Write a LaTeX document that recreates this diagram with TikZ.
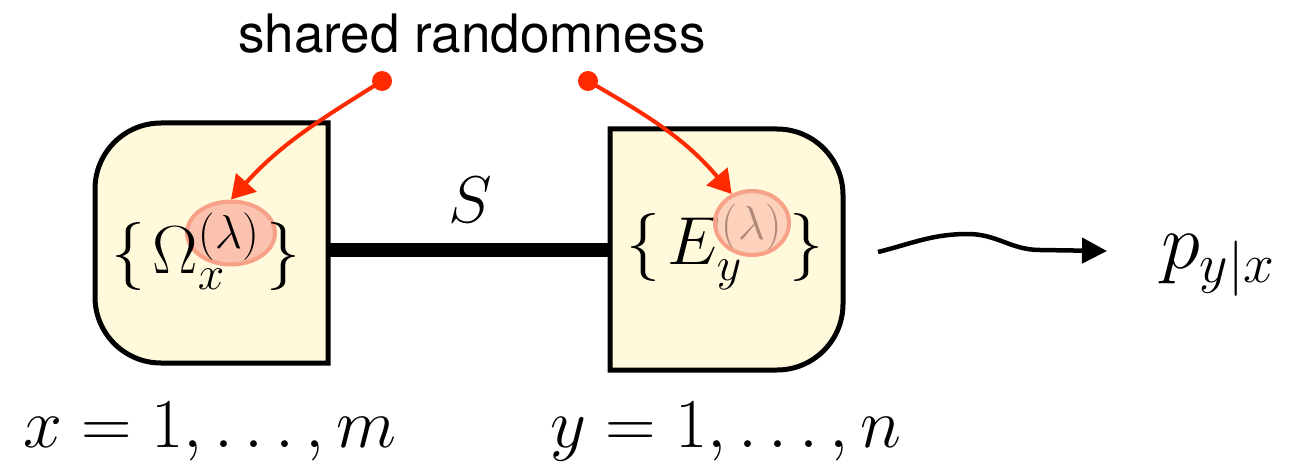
\RequirePackage{fix-cm}
\documentclass[tikz,border=0pt]{standalone}
\usepackage{fontspec}
\newfontfamily\srfont{TeX Gyre Heros}
\usetikzlibrary{arrows.meta,shapes.geometric}
\definecolor{boxfill}{HTML}{FFFADC}
\definecolor{rnd}{HTML}{FF2A00}
\definecolor{lamfill}{HTML}{FBC2AF}
\definecolor{lamedge}{HTML}{F7A189}
\begin{document}
\begin{tikzpicture}[x=1pt,y=1pt,
  boxline/.style={draw=black,line width=5pt,fill=boxfill,line join=miter},
  mathlbl/.style={inner sep=0pt,anchor=base,font=\fontsize{70}{75}\selectfont},
  boxmath/.style={inner sep=0pt,anchor=base,font=\fontsize{68}{72}\selectfont},
  lam/.style={ellipse,inner sep=0pt,fill=lamfill,draw=lamedge,line width=4pt},
  dot/.style={circle,fill=rnd,inner sep=0pt,minimum size=20pt},
  rarrow/.style={draw=rnd,line width=4pt,-{Triangle[length=23pt,width=27pt]}},
  barline/.style={line width=14pt},
  squig/.style={line width=4.5pt,-{Triangle[length=25pt,width=25pt]}}]
\useasboundingbox (0,0) rectangle (1295,-468);

% bar between the boxes
\coordinate (barL) at (328,-250);
\coordinate (barR) at (610,-250);
\draw[barline] (barL) -- (barR);

% left box
\draw[boxline] (328,-363) -- (328,-123) -- (161,-123)
  arc[start angle=90,end angle=180,radius=66] -- (95,-297)
  arc[start angle=180,end angle=270,radius=66] -- cycle;
% right box
\draw[boxline] (610,-129) -- (777,-129)
  arc[start angle=90,end angle=0,radius=66] -- (843,-304)
  arc[start angle=0,end angle=-90,radius=66] -- (610,-370) -- cycle;

% left lambda highlight (behind the text)
\node[lam,minimum width=88pt,minimum height=63pt] (lamL) at (231,-233) {};

% texts
\node[inner sep=0pt,anchor=base,font=\srfont\fontsize{53}{58}\selectfont] (sr) at (472,-53) {shared randomness};
\node[boxmath] (omega) at (206,-273) {$\{\mkern2mu\Omega_x^{(\lambda)}\mkern2mu\}$};
\node[boxmath] (ey) at (725,-264) {$\{\mkern2mu E_y^{(\lambda)}\mkern2mu\}$};
\node[mathlbl,font=\fontsize{66}{70}\selectfont] (S) at (470,-222) {$S$};
\node[mathlbl] (xl) at (210,-447) {$x=1,\ldots,m$};
\node[mathlbl] (yl) at (726,-447) {$y=1,\ldots,n$};
\node[mathlbl,font=\fontsize{79}{84}\selectfont] (p) at (1218,-268) {$p_{y|x}$};

% right lambda highlight (over the text, see-through)
\node[lam,fill opacity=0.7,minimum width=74pt,minimum height=64pt] (lamR) at (752,-223) {};

% shared randomness dots and arrows
\node[dot] (dotL) at (382,-81) {};
\node[dot] (dotR) at (588,-81) {};
\draw[rarrow] (dotL.center) to[out=212,in=48] (lamL.north);
\draw[rarrow] (dotR.center) to[out=-30,in=130] (lamR.125);

% output squiggle
\coordinate (sqA) at (878,-252);
\coordinate (sqB) at (1107,-251);
\draw[squig] (sqA) to[out=14,in=180] (968,-234) to[out=0,in=180] (1040,-250) -- (sqB);
\end{tikzpicture}
\end{document}
